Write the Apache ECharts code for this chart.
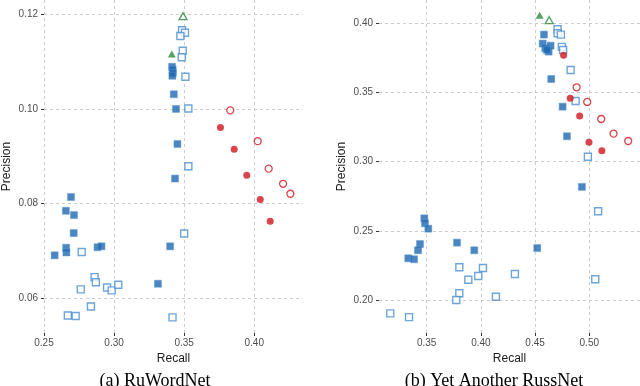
<!DOCTYPE html>
<html>
<head>
<meta charset="utf-8">
<script src="https://cdn.jsdelivr.net/npm/echarts@6/dist/echarts.min.js"></script>
<style>
html, body { margin: 0; background: #fff; }
#chart { width: 640px; height: 386px; }
</style>
</head>
<body>
<div id="chart"></div>
<script>
// (a) RuWordNet  [recall, precision]
const ruFilledSq = [
	[0.3414, 0.1089], [0.3418, 0.1083], [0.3419, 0.1076], [0.3416, 0.1070],
	[0.3426, 0.1031], [0.3442, 0.1000], [0.3452, 0.0926], [0.3435, 0.0853],
	[0.2693, 0.0814], [0.2656, 0.0785], [0.2714, 0.0776], [0.2712, 0.0738],
	[0.2658, 0.0707], [0.2660, 0.0697], [0.2576, 0.0691], [0.2882, 0.0708],
	[0.2910, 0.0710], [0.3400, 0.0710], [0.3313, 0.0631]
];
const ruOpenSq = [
	[0.3485, 0.1166], [0.3506, 0.1161], [0.3473, 0.1154], [0.3490, 0.1123],
	[0.3483, 0.1109], [0.3509, 0.1068], [0.3530, 0.1001], [0.3530, 0.0879],
	[0.3500, 0.0737], [0.2769, 0.0698], [0.2861, 0.0645], [0.2870, 0.0634],
	[0.2762, 0.0619], [0.2950, 0.0623], [0.2983, 0.0617], [0.3030, 0.0629],
	[0.2835, 0.0583], [0.2670, 0.0564], [0.2726, 0.0563], [0.3417, 0.0560]
];
const ruFilledCircle = [
	[0.3759, 0.0961], [0.3857, 0.0915], [0.3947, 0.0860], [0.4043, 0.0809], [0.4114, 0.0763]
];
const ruOpenCircle = [
	[0.3829, 0.0997], [0.4025, 0.0932], [0.4103, 0.0874], [0.4206, 0.0842], [0.4258, 0.0821]
];
const ruFilledTri = [[0.3412, 0.1116]];
const ruOpenTri = [[0.3492, 0.1196]];

// (b) Yet Another RussNet
const yarnFilledSq = [
	[0.4582, 0.3918], [0.4570, 0.3853], [0.4594, 0.3819], [0.4625, 0.3795],
	[0.4643, 0.3838], [0.4609, 0.3807], [0.4649, 0.3597], [0.4754, 0.3397],
	[0.4794, 0.3183], [0.4932, 0.2817], [0.4520, 0.2375], [0.3939, 0.2359],
	[0.3780, 0.2414], [0.3478, 0.2590], [0.3484, 0.2554], [0.3515, 0.2515],
	[0.3438, 0.2404], [0.3420, 0.2359], [0.3330, 0.2301], [0.3383, 0.2294]
];
const yarnOpenSq = [
	[0.4708, 0.3957], [0.4708, 0.3928], [0.4738, 0.3918], [0.4747, 0.3829],
	[0.4759, 0.3807], [0.4828, 0.3662], [0.4874, 0.3438], [0.4987, 0.3035],
	[0.5082, 0.2641], [0.5055, 0.2149], [0.4314, 0.2187], [0.4019, 0.2231],
	[0.3976, 0.2173], [0.3884, 0.2146], [0.3801, 0.2236], [0.3801, 0.2048],
	[0.3773, 0.2000], [0.4139, 0.2023], [0.3164, 0.1903], [0.3337, 0.1876]
];
const yarnFilledCircle = [
	[0.4763, 0.3769], [0.4824, 0.3458], [0.4911, 0.3330], [0.4997, 0.3140], [0.5116, 0.3079]
];
const yarnOpenCircle = [
	[0.4883, 0.3537], [0.4981, 0.3431], [0.5110, 0.3308], [0.5224, 0.3202], [0.5359, 0.3149]
];
const yarnFilledTri = [[0.4542, 0.4058]];
const yarnOpenTri = [[0.4630, 0.4022]];

// tick labels
const ruXTicks = [0.25, 0.30, 0.35, 0.40];
const ruYTicks = [0.06, 0.08, 0.10, 0.12];
const yarnXTicks = [0.35, 0.40, 0.45, 0.50];
const yarnYTicks = [0.20, 0.25, 0.30, 0.35, 0.40];

const BLUE = '#1f68b0';
const LIGHT_BLUE = '#4a8fd0';
const RED = '#d0161e';
const GREEN = '#2d8a3e';

function makeAxis(idx, min, max, ticks, isX) {
	return {
		type: 'value',
		gridIndex: idx,
		min: min,
		max: max,
		name: isX ? 'Recall' : 'Precision',
		nameLocation: 'middle',
		nameGap: isX ? 19 : 31,
		nameTextStyle: { color: '#1a1a1a', fontSize: 12, fontFamily: 'Liberation Sans' },
		axisLine: { show: false },
		axisTick: { show: true, length: 3, customValues: ticks, lineStyle: { color: '#333' } },
		axisLabel: {
			customValues: ticks,
			margin: isX ? 5 : 6,
			color: '#4d4d4d',
			fontSize: 10,
			fontFamily: 'Liberation Sans',
			formatter: v => v.toFixed(2)
		},
		splitLine: { show: true, lineStyle: { color: '#cccccc', type: [3, 3], width: 1 } }
	};
}

function panelSeries(idx, openSq, filledSq, openCircle, filledCircle, openTri, filledTri) {
	const base = { type: 'scatter', xAxisIndex: idx, yAxisIndex: idx };
	return [
		Object.assign({}, base, { data: openSq, symbol: 'rect', symbolSize: 7,
			itemStyle: { color: '#fff', borderColor: LIGHT_BLUE, borderWidth: 1.4 } }),
		Object.assign({}, base, { data: filledSq, symbol: 'rect', symbolSize: 7,
			itemStyle: { color: BLUE, borderColor: '#5b98d2', borderWidth: 0.6 } }),
		Object.assign({}, base, { data: openCircle, symbol: 'circle', symbolSize: 7,
			itemStyle: { color: '#fff', borderColor: RED, borderWidth: 1.3 } }),
		Object.assign({}, base, { data: filledCircle, symbol: 'circle', symbolSize: 7,
			itemStyle: { color: RED } }),
		Object.assign({}, base, { data: openTri, symbol: 'triangle', symbolSize: [8, 7],
			itemStyle: { color: '#fff', borderColor: GREEN, borderWidth: 1.3 } }),
		Object.assign({}, base, { data: filledTri, symbol: 'triangle', symbolSize: [8, 7],
			itemStyle: { color: GREEN } })
	];
}

const chart = echarts.init(document.getElementById('chart'), null, { renderer: 'canvas' });
chart.setOption({
	backgroundColor: '#fff',
	animation: false,
	title: [
		{ text: '(a) RuWordNet', left: 150, top: 367, textAlign: 'center',
			textStyle: { fontFamily: 'Liberation Serif', fontWeight: 'normal', fontSize: 18, color: '#000' } },
		{ text: '(b) Yet Another RussNet', left: 489, top: 367, textAlign: 'center',
			textStyle: { fontFamily: 'Liberation Serif', fontWeight: 'normal', fontSize: 18, color: '#000' } }
	],
	grid: [
		{ left: 42, right: 337, top: 0, bottom: 53 },
		{ left: 379, right: 0, top: 0, bottom: 53 }
	],
	xAxis: [
		makeAxis(0, 0.25, 0.4348, ruXTicks, true),
		makeAxis(1, 0.306, 0.5468, yarnXTicks, true)
	],
	yAxis: [
		makeAxis(0, 0.0527, 0.1230, ruYTicks, false),
		makeAxis(1, 0.1761, 0.4168, yarnYTicks, false)
	],
	series: panelSeries(0, ruOpenSq, ruFilledSq, ruOpenCircle, ruFilledCircle, ruOpenTri, ruFilledTri)
		.concat(panelSeries(1, yarnOpenSq, yarnFilledSq, yarnOpenCircle, yarnFilledCircle, yarnOpenTri, yarnFilledTri))
});
</script>
</body>
</html>
